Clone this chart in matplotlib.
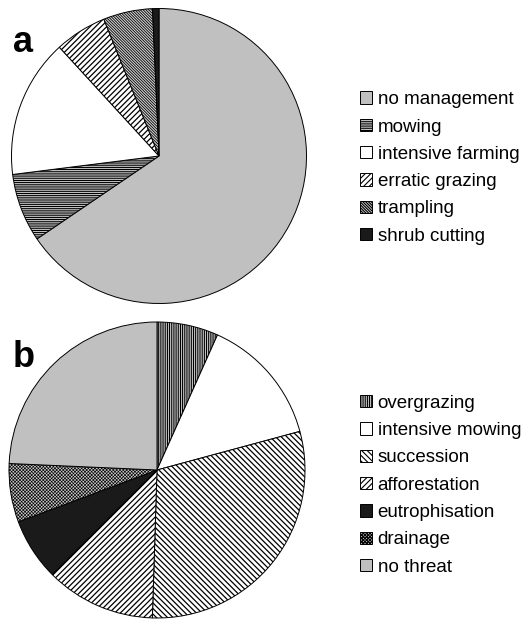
import matplotlib
matplotlib.use("Agg")
import matplotlib.pyplot as plt

plt.rcParams['font.family'] = ['Liberation Sans', 'DejaVu Sans']
plt.rcParams['hatch.linewidth'] = 0.8

# Panel a: management
labels_a = ["no management", "mowing", "intensive farming", "erratic grazing", "trampling", "shrub cutting"]
values_a = [65.5, 7.5, 15.2, 5.7, 5.4, 0.7]
colors_a = ["#c0c0c0", "white", "white", "white", "#d0d0d0", "#1a1a1a"]
hatches_a = [None, "-" * 9, None, "/" * 6, "\\" * 12, None]
hatch_lw_a = [0.8, 0.8, 0.8, 0.9, 0.6, 0.8]

# Panel b: threats
labels_b = ["overgrazing", "intensive mowing", "succession", "afforestation", "eutrophisation", "drainage", "no threat"]
values_b = [6.7, 14.1, 29.7, 12.0, 6.8, 6.4, 24.3]
colors_b = ["white", "white", "white", "white", "#1a1a1a", "#c8c8c8", "#c0c0c0"]
hatches_b = ["|" * 9, None, "\\" * 6, "/" * 6, None, "x" * 10, None]
hatch_lw_b = [0.8, 0.8, 0.9, 0.9, 0.8, 0.45, 0.8]

W, H = 522, 619
fig = plt.figure(figsize=(W / 100, H / 100), dpi=100)


def make_pie(cx, cy, r, values, colors, hatches, hlws):
    ax = fig.add_axes([(cx - r) / W, (H - cy - r) / H, 2 * r / W, 2 * r / H])
    wedges, _ = ax.pie(values, colors=colors, startangle=90, counterclock=False,
                       wedgeprops=dict(edgecolor="black", linewidth=0.7))
    for w, h, lw in zip(wedges, hatches, hlws):
        if h:
            w.set_hatch(h)
            if hasattr(w, "set_hatch_linewidth"):
                w.set_hatch_linewidth(lw)
    ax.set_xlim(-1.0, 1.0)
    ax.set_ylim(-1.0, 1.0)
    ax.set_aspect("equal")
    ax.axis("off")
    return wedges


wa = make_pie(159, 156, 147.5, values_a, colors_a, hatches_a, hatch_lw_a)
wb = make_pie(157, 470, 148, values_b, colors_b, hatches_b, hatch_lw_b)

fig.text(13 / W, 1 - 52 / H, "a", fontsize=26, fontweight="heavy", va="baseline", ha="left")
fig.text(13 / W, 1 - 367 / H, "b", fontsize=26, fontweight="heavy", va="baseline", ha="left")

leg_kw = dict(frameon=False, fontsize=13.5, handlelength=0.64, handleheight=0.64,
              handletextpad=0.3, labelspacing=0.55, borderpad=0, borderaxespad=0,
              loc="center left")
fig.legend(wa, labels_a, bbox_to_anchor=(360 / W, 1 - 168 / H), **leg_kw)
fig.legend(wb, labels_b, bbox_to_anchor=(360 / W, 1 - 485.3 / H), **leg_kw)

fig.savefig("out.png", dpi=100)
